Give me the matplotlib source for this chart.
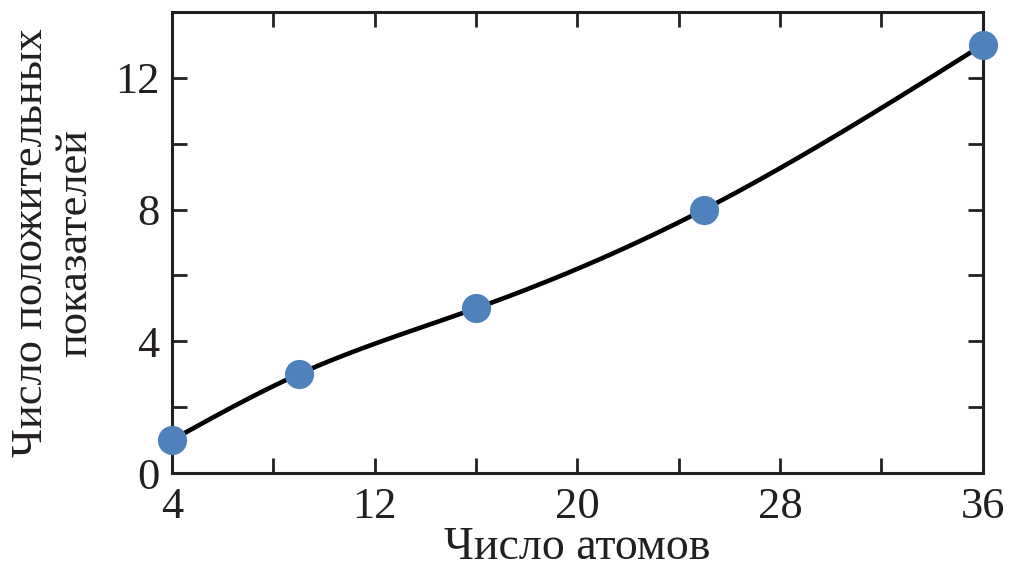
import numpy as np
import matplotlib.pyplot as plt

atoms = [4, 9, 16, 25, 36]
positive_exponents = [1, 3, 5, 8, 13]
x_ticks = [4, 12, 20, 28, 36]
y_ticks = [0, 4, 8, 12]


def natural_spline(x, y, n=300):
    # plain natural cubic spline, scipy is not available
    x = np.asarray(x, float)
    y = np.asarray(y, float)
    k = len(x)
    h = np.diff(x)
    A = np.zeros((k, k))
    r = np.zeros(k)
    A[0, 0] = A[-1, -1] = 1
    for i in range(1, k - 1):
        A[i, i - 1] = h[i - 1]
        A[i, i] = 2 * (h[i - 1] + h[i])
        A[i, i + 1] = h[i]
        r[i] = 3 * ((y[i + 1] - y[i]) / h[i] - (y[i] - y[i - 1]) / h[i - 1])
    c = np.linalg.solve(A, r)
    xs = np.linspace(x[0], x[-1], n)
    ys = np.empty_like(xs)
    for j, xv in enumerate(xs):
        i = min(np.searchsorted(x, xv, side='right') - 1, k - 2)
        d = (c[i + 1] - c[i]) / (3 * h[i])
        b = (y[i + 1] - y[i]) / h[i] - h[i] * (2 * c[i] + c[i + 1]) / 3
        t = xv - x[i]
        ys[j] = y[i] + b * t + c[i] * t ** 2 + d * t ** 3
    return xs, ys


plt.rcParams['font.family'] = ['Liberation Serif']

fig = plt.figure(figsize=(10.11, 5.71), dpi=100)
ax = fig.add_axes([0.170, 0.1716, 0.802, 0.8074])

xs, ys = natural_spline(atoms, positive_exponents)
ax.plot(xs, ys, color='black', lw=3.3, zorder=2)
ax.plot(atoms, positive_exponents, 'o', color='#4f81bd', markersize=21,
        markeredgewidth=0, clip_on=False, zorder=3)

ax.set_xlim(4, 36)
ax.set_ylim(0, 14)
ax.set_xticks(x_ticks)
ax.set_yticks(y_ticks)
ax.set_xticks(np.arange(4, 37, 4), minor=True)
ax.set_yticks(np.arange(0, 15, 2), minor=True)

for s in ax.spines.values():
    s.set_linewidth(2.2)
    s.set_color('#231f20')
ax.tick_params(which='both', direction='in', length=11, width=2, color='#231f20',
               top=True, right=True, labelsize=32, labelcolor='#231f20')
ax.tick_params(axis='x', pad=10)
ax.tick_params(axis='y', pad=9)

ax.set_xlabel('Число атомов', fontsize=33, color='#231f20', labelpad=0)
ax.set_ylabel('Число положительных\nпоказателей', fontsize=32, color='#231f20',
              labelpad=14, linespacing=1.15)

fig.savefig('out.png', dpi=100)
